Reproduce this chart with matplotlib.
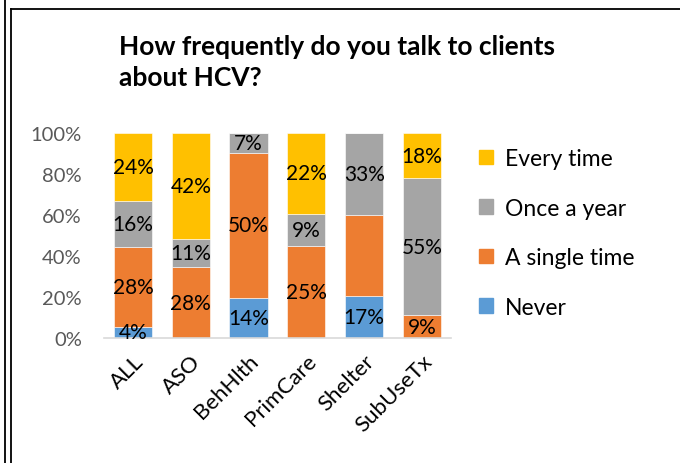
import numpy as np
import matplotlib
matplotlib.use("Agg")
import matplotlib.pyplot as plt
from matplotlib.lines import Line2D
from matplotlib.patches import Patch

plt.rcParams['font.family'] = ['Lato', 'DejaVu Sans']

categories = ["ALL", "ASO", "BehHlth", "PrimCare", "Shelter", "SubUseTx"]
series = ["Never", "A single time", "Once a year", "Every time"]
never = [4, 0, 14, 0, 17, 0]
single = [28, 28, 50, 25, 33, 9]
once = [16, 11, 7, 9, 33, 55]
every = [24, 42, 0, 22, 0, 18]
# Shelter's "A single time" value has no label in the chart
show_label = [
    [True, False, True, False, True, False],
    [True, True, True, True, False, True],
    [True, True, True, True, True, True],
    [True, True, False, True, False, True],
]
colors = ["#5B9BD5", "#ED7D31", "#A5A5A5", "#FFC000"]

values = np.array([never, single, once, every], dtype=float)
totals = values.sum(axis=0)
shares = values / totals * 100

fig = plt.figure(figsize=(6.8, 4.64), dpi=100)
ax = fig.add_axes([0.153, 0.2694, 0.510, 0.4418])

x = np.arange(len(categories))
bottom = np.zeros(len(categories))
for i in range(len(series)):
    ax.bar(x, shares[i], 0.66, bottom=bottom, color=colors[i], label=series[i],
           edgecolor="white", linewidth=0.4)
    for j in range(len(categories)):
        if values[i, j] > 0 and show_label[i][j]:
            ax.text(x[j], bottom[j] + shares[i, j] / 2, f"{int(values[i, j])}%",
                    ha="center", va="center", fontsize=15, color="black")
    bottom += shares[i]

ax.set_xlim(-0.5, len(categories) - 0.5)
ax.set_ylim(0, 100)
ax.set_yticks(range(0, 101, 20))
ax.set_yticklabels([f"{v}%" for v in range(0, 101, 20)], fontsize=14.5, color="#595959")
ax.set_xticks(x)
ax.set_xticklabels(categories, rotation=45, ha="right", rotation_mode="anchor",
                   fontsize=16, color="black")
ax.tick_params(axis="both", length=0)
ax.tick_params(axis="y", pad=16)
ax.tick_params(axis="x", pad=9)
for s in ["top", "right", "left"]:
    ax.spines[s].set_visible(False)
ax.spines["bottom"].set_color("#D9D9D9")
ax.spines["bottom"].set_linewidth(1.2)

fig.text(0.175, 0.925, "How frequently do you talk to clients\nabout HCV?",
         fontsize=19, fontweight="bold", ha="left", va="top", linespacing=1.38)

handles = [Patch(color=colors[i]) for i in range(3, -1, -1)]
labels = [series[i] for i in range(3, -1, -1)]
fig.legend(handles, labels, loc="center left", bbox_to_anchor=(0.705, 0.496),
           frameon=False, fontsize=16.5, labelspacing=1.25, handlelength=0.6,
           handleheight=0.6, handletextpad=0.5, borderpad=0, borderaxespad=0)

# outer frame lines
fig.add_artist(Line2D([4.5 / 680, 4.5 / 680], [0, 1], color="black", lw=1.3))
fig.add_artist(Line2D([11 / 680, 11 / 680], [0, 1 - 9.5 / 464], color="black", lw=1.3))
fig.add_artist(Line2D([11 / 680, 1], [1 - 9.5 / 464, 1 - 9.5 / 464], color="black", lw=1.3))

fig.savefig("out.png", dpi=100)
